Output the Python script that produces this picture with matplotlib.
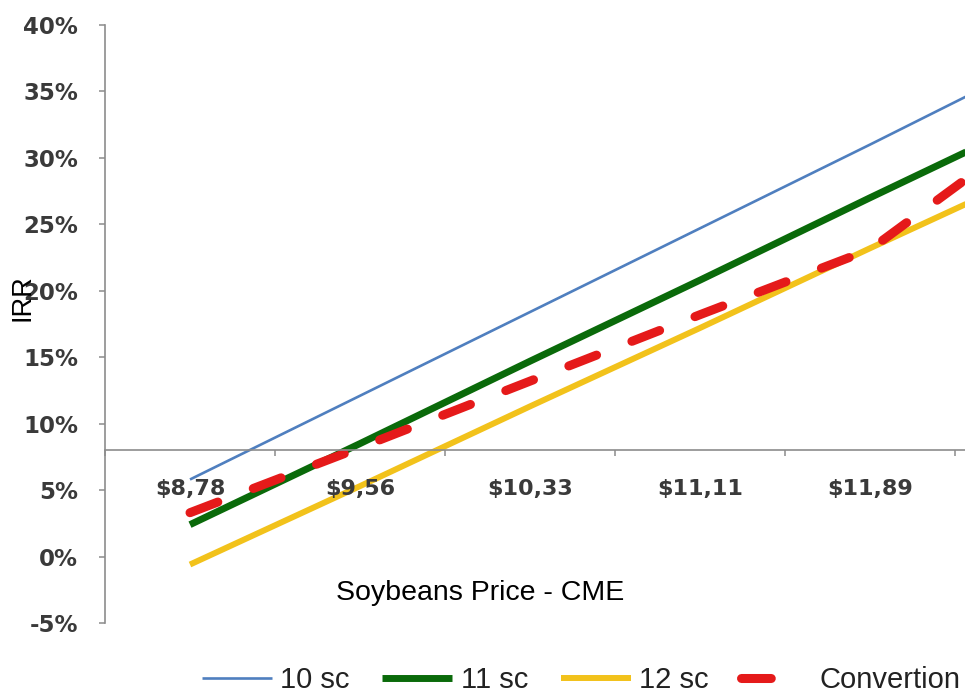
import matplotlib
matplotlib.use("Agg")
import matplotlib.pyplot as plt
from matplotlib.lines import Line2D
import numpy as np

# ---------------- data ----------------
categories = ["$8,78", "$9,56", "$10,33", "$11,11", "$11,89", "$12,67"]
irr_10sc = [5.8, 12.1, 18.4, 24.7, 31.0, 37.4]
irr_11sc = [2.4, 8.5, 14.7, 20.8, 27.0, 33.1]
irr_12sc = [-0.6, 5.3, 11.3, 17.2, 23.2, 29.1]
irr_conv = [3.3, 8.2, 13.2, 18.2, 23.1, 32.5]
series_names = ["10 sc", "11 sc", "12 sc", "Convertion"]
y_ticks = [-5, 0, 5, 10, 15, 20, 25, 30, 35, 40]
x_cross = 8  # horizontal axis crosses the value axis at 8%

W, H = 965, 696
fig = plt.figure(figsize=(W / 100, H / 100), dpi=100)
fig.patch.set_facecolor("white")

# axes deliberately extends past the right edge (the chart is cropped there)
ax = fig.add_axes([105 / W, (H - 623) / H, 1020 / W, 598 / H])
ax.set_facecolor("none")
ax.set_axisbelow(False)  # axis / tick labels above the series lines

x = np.arange(len(categories))
l1, = ax.plot(x, irr_10sc, color="#4F7FBF", lw=1.9, solid_capstyle="butt", zorder=2.0)
l2, = ax.plot(x, irr_11sc, color="#0A6A0A", lw=5.0, solid_capstyle="butt", zorder=2.1)
l3, = ax.plot(x, irr_12sc, color="#F2C21B", lw=4.3, solid_capstyle="butt", zorder=2.2)
l4, = ax.plot(x, irr_conv, color="#E51A1A", lw=6.5, zorder=2.3,
              dash_capstyle="round")
l4.set_dashes((3.3, 4.2))

ax.set_xlim(-0.5, len(categories) - 0.5)
ax.set_ylim(-5, 40)

# spines
for s in ("top", "right"):
    ax.spines[s].set_visible(False)
ax.spines["left"].set_color("#8C8C8C")
ax.spines["left"].set_linewidth(1.2)
ax.spines["bottom"].set_position(("data", x_cross))
ax.spines["bottom"].set_color("#8C8C8C")
ax.spines["bottom"].set_linewidth(1.2)

# y ticks
ax.set_yticks(y_ticks)
ax.set_yticklabels([f"{v}%" for v in y_ticks])
ax.tick_params(axis="y", direction="out", length=4.5, width=1.1, color="#8C8C8C",
               pad=15, labelsize=16.5, labelcolor="#3A3A3A")
for t in ax.get_yticklabels():
    t.set_fontweight("bold")
    t.set_family("DejaVu Sans")

# x ticks: labels at category centres, tick marks at boundaries
ax.set_xticks(x)
ax.set_xticklabels(categories)
ax.set_xticks(np.arange(len(categories) + 1) - 0.5, minor=True)
ax.tick_params(axis="x", which="major", length=0, pad=21, labelsize=16,
               labelcolor="#3A3A3A")
ax.tick_params(axis="x", which="minor", direction="out", length=4, width=1.1,
               color="#8C8C8C")
xt = ax.get_xticklabels()
for t in xt:
    t.set_fontweight("bold")
    t.set_family("DejaVu Sans")
xt[-1].set_visible(False)  # lies beyond the cropped right edge

# axis titles
fig.text(480 / W, 1 - 593 / H, "Soybeans Price - CME", ha="center", va="center",
         fontsize=20.5, family="Liberation Sans", color="black")
fig.text(22 / W, 1 - 298 / H, "IRR", ha="center", va="center", rotation=90,
         fontsize=19.5, family="Liberation Sans", color="black")

# legend (the dashed entry shows a single dash, as in the original)
conv_handle = Line2D([], [], color=l4.get_color(), lw=l4.get_linewidth(),
                     dash_capstyle="round")
conv_handle.set_dashes((3.3, 20))
leg = fig.legend([l1, l2, l3, conv_handle], series_names, loc="center left",
                 bbox_to_anchor=(202 / W, 1 - 680 / H), ncol=4, frameon=False,
                 borderpad=0, borderaxespad=0, handlelength=2.4,
                 handletextpad=0.28, columnspacing=1.12,
                 prop={"family": "Liberation Sans", "size": 21})
for t in leg.get_texts():
    t.set_color("#222222")

fig.savefig("out.png", dpi=100)
